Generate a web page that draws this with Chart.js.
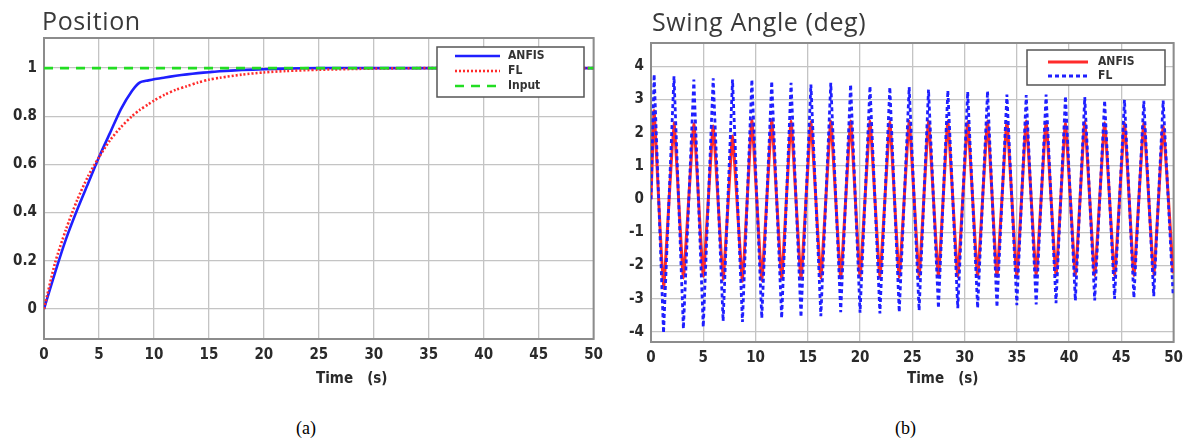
<!DOCTYPE html>
<html>
<head>
<meta charset="utf-8">
<script src="https://cdn.jsdelivr.net/npm/chart.js@4.4.1/dist/chart.umd.min.js"></script>
<style>
    body { margin: 0; background: #fff; }
    #page { position: relative; width: 1190px; height: 442px; overflow: hidden; }
    canvas { position: absolute; top: 0; }
    #posCanvas { left: 0; }
    #swingCanvas { left: 600px; }
    .title { position: absolute; font-family: 'Open Sans', sans-serif; font-size: 25px; letter-spacing: 0.6px; color: #3a3a3a; line-height: 1; white-space: nowrap; }
    .axis-title { position: absolute; font-family: 'DejaVu Sans Condensed', 'DejaVu Sans', sans-serif; font-weight: bold; font-size: 15px; color: #2a2a2a; white-space: pre; line-height: 1; }
    .caption { position: absolute; font-family: 'Liberation Serif', 'Times New Roman', serif; font-size: 18px; color: #000; line-height: 1; }
</style>
</head>
<body>
<div id="page">
    <canvas id="posCanvas" width="610" height="400"></canvas>
    <canvas id="swingCanvas" width="590" height="400"></canvas>
    <div class="title" style="left:42px; top:8px;">Position</div>
    <div class="title" style="left:652px; top:9px;">Swing Angle (deg)</div>
    <div class="axis-title" style="left:316px; top:371px;">Time   (s)</div>
    <div class="axis-title" style="left:907px; top:371px;">Time   (s)</div>
    <div class="caption" style="left:296px; top:419px;">(a)</div>
    <div class="caption" style="left:895px; top:419px;">(b)</div>
</div>
<script>
// Position response (a)
const posTime = [0, 1, 2, 3, 4, 5, 6, 7, 8, 8.7, 9.5, 10, 11, 12, 13, 14, 15, 16, 18, 20, 22, 25, 30, 35, 40, 45, 50];
const posAnfis = [0, 0.15, 0.29, 0.41, 0.52, 0.63, 0.73, 0.83, 0.905, 0.94, 0.949, 0.954, 0.961, 0.968, 0.974, 0.979, 0.983, 0.987, 0.992, 0.995, 0.998, 1, 1, 1, 1, 1, 1];
const posFl = [0, 0.19, 0.33, 0.45, 0.55, 0.63, 0.70, 0.755, 0.80, 0.826, 0.85, 0.865, 0.89, 0.91, 0.925, 0.94, 0.952, 0.96, 0.973, 0.982, 0.988, 0.993, 0.998, 1, 1, 1, 1];
const inputTime = [0, 50];
const inputValue = [1, 1];
const posTicks = [0, 0.2, 0.4, 0.6, 0.8, 1];

// Swing angle (b): peaks and troughs of each swing
const swingStart = [0, 0];
const peakTime = [0.3, 2.2, 4.1, 5.95, 7.8, 9.65, 11.55, 13.4, 15.3, 17.2, 19.1, 20.95, 22.85, 24.7, 26.55, 28.4, 30.3, 32.2, 34.05, 35.9, 37.8, 39.65, 41.5, 43.4, 45.3, 47.15, 49.0];
const troughTime = [1.2, 3.1, 5.0, 6.9, 8.75, 10.6, 12.5, 14.35, 16.25, 18.15, 20.0, 21.9, 23.75, 25.65, 27.5, 29.35, 31.25, 33.1, 35.0, 36.85, 38.75, 40.6, 42.45, 44.35, 46.2, 48.1, 49.95];
const anfisPeak = [2.66, 2.3, 2.27, 2.2, 1.9, 2.38, 2.38, 2.35, 2.33, 2.35, 2.35, 2.35, 2.33, 2.35, 2.35, 2.35, 2.33, 2.35, 2.33, 2.35, 2.33, 2.3, 2.33, 2.3, 2.3, 2.3, 2.2];
const anfisTrough = [-2.68, -2.37, -2.32, -2.41, -2.47, -2.45, -2.4, -2.4, -2.38, -2.38, -2.35, -2.35, -2.35, -2.33, -2.33, -2.33, -2.33, -2.33, -2.33, -2.3, -2.3, -2.3, -2.3, -2.3, -2.3, -2.28, -2.23];
const flPeak = [3.76, 3.7, 3.6, 3.64, 3.6, 3.6, 3.55, 3.5, 3.45, 3.5, 3.45, 3.4, 3.37, 3.37, 3.3, 3.27, 3.23, 3.25, 3.15, 3.13, 3.15, 3.1, 3.07, 2.97, 2.99, 2.96, 2.97];
const flTrough = [-4.03, -3.9, -3.85, -3.67, -3.7, -3.58, -3.58, -3.55, -3.52, -3.4, -3.42, -3.44, -3.4, -3.35, -3.28, -3.28, -3.28, -3.25, -3.19, -3.17, -3.13, -3.05, -3.05, -3.0, -2.97, -2.92, -2.87];
const swingTicks = [-4, -3, -2, -1, 0, 1, 2, 3, 4];
const timeTicks = [0, 5, 10, 15, 20, 25, 30, 35, 40, 45, 50];

const BLUE = '#1f1fff';
const RED = '#ff2b2b';
const GREEN = '#22dd22';
const tickFont = { family: "'DejaVu Sans Condensed', 'DejaVu Sans', sans-serif", weight: 'bold', size: 15 };

function toPoints(xs, ys) {
    return xs.map((x, i) => ({ x: x, y: ys[i] }));
}

function swingPoints(peaks, troughs) {
    const pts = [{ x: swingStart[0], y: swingStart[1] }];
    peakTime.forEach((t, i) => {
        pts.push({ x: t, y: peaks[i] });
        pts.push({ x: troughTime[i], y: troughs[i] });
    });
    return pts;
}

// frame round the plot + boxed legend inside it
const framePlugin = {
    id: 'frame',
    beforeDatasetsDraw(chart) {
        const a = chart.chartArea, ctx = chart.ctx;
        ctx.save();
        ctx.strokeStyle = '#8c8c8c';
        ctx.lineWidth = 2;
        ctx.strokeRect(a.left, a.top, a.right - a.left, a.bottom - a.top);
        ctx.restore();
    },
    afterDraw(chart, args, opts) {
        const ctx = chart.ctx;
        ctx.save();
        ctx.fillStyle = '#fff';
        ctx.fillRect(opts.x, opts.y, opts.w, opts.h);
        ctx.strokeStyle = '#555';
        ctx.lineWidth = 1.5;
        ctx.strokeRect(opts.x, opts.y, opts.w, opts.h);
        ctx.font = "bold 12px 'DejaVu Sans Condensed', 'DejaVu Sans', sans-serif";
        ctx.textBaseline = 'middle';
        opts.items.forEach((idx, row) => {
            const ds = chart.data.datasets[idx];
            const y = opts.y + opts.firstRow + row * opts.rowH;
            ctx.strokeStyle = ds.borderColor;
            ctx.lineWidth = ds.borderWidth;
            ctx.setLineDash(ds.borderDash || []);
            ctx.beginPath();
            ctx.moveTo(opts.sampleX, y);
            ctx.lineTo(opts.sampleX + opts.sampleW, y);
            ctx.stroke();
            ctx.setLineDash([]);
            ctx.fillStyle = '#333';
            ctx.fillText(ds.label, opts.textX, y);
        });
        ctx.restore();
    }
};

// use exactly the listed tick values
function useTicks(list) {
    return scale => {
        scale.ticks = list.map(v => ({ value: v }));
    };
}

function makeScales(yMin, yMax, yList, yWidth) {
    return {
        x: {
            type: 'linear', min: 0, max: 50,
            ticks: { font: tickFont, color: '#2a2a2a', padding: 7, maxRotation: 0 },
            afterBuildTicks: useTicks(timeTicks),
            afterFit: s => { s.height = 30; },
            grid: { color: '#c4c4c4', lineWidth: 1.3, drawTicks: false },
            border: { display: false }
        },
        y: {
            type: 'linear', min: yMin, max: yMax,
            ticks: { font: tickFont, color: '#2a2a2a', padding: 7,
                     callback: v => String(Math.round(v * 10) / 10) },
            afterBuildTicks: useTicks(yList),
            afterFit: s => { s.width = yWidth; },
            grid: { color: '#c4c4c4', lineWidth: 1.3, drawTicks: false },
            border: { display: false }
        }
    };
}

const commonOpts = {
    responsive: false,
    animation: false,
    events: [],
    elements: { point: { radius: 0 }, line: { tension: 0 } }
};

new Chart(document.getElementById('posCanvas'), {
    type: 'line',
    data: {
        datasets: [
            { label: 'ANFIS', data: toPoints(posTime, posAnfis), borderColor: BLUE, borderWidth: 2.6, tension: 0.25, order: 3 },
            { label: 'FL', data: toPoints(posTime, posFl), borderColor: RED, borderWidth: 2.6, borderDash: [2, 2], tension: 0.25, order: 2 },
            { label: 'Input', data: toPoints(inputTime, inputValue), borderColor: GREEN, borderWidth: 2.6, borderDash: [9, 7], order: 1 }
        ]
    },
    options: Object.assign({}, commonOpts, {
        layout: { padding: { left: 0, top: 38, right: 14, bottom: 31 } },
        scales: makeScales(-0.125, 1.125, posTicks, 44),
        plugins: {
            legend: { display: false },
            tooltip: { enabled: false },
            frame: { x: 437, y: 47, w: 147, h: 50, firstRow: 9, rowH: 15, sampleX: 455, sampleW: 45, textX: 508, items: [0, 1, 2] }
        }
    }),
    plugins: [framePlugin]
});

new Chart(document.getElementById('swingCanvas'), {
    type: 'line',
    data: {
        datasets: [
            { label: 'ANFIS', data: swingPoints(anfisPeak, anfisTrough), borderColor: RED, borderWidth: 3, tension: 0.1, order: 2 },
            { label: 'FL', data: swingPoints(flPeak, flTrough), borderColor: BLUE, borderWidth: 2.8, borderDash: [4, 3], order: 1 }
        ]
    },
    options: Object.assign({}, commonOpts, {
        layout: { padding: { left: 0, top: 43, right: 15, bottom: 28 } },
        scales: makeScales(-4.3, 4.7, swingTicks, 51),
        plugins: {
            legend: { display: false },
            tooltip: { enabled: false },
            frame: { x: 427, y: 50, w: 138, h: 35, firstRow: 12, rowH: 14, sampleX: 448, sampleW: 40, textX: 498, items: [0, 1] }
        }
    }),
    plugins: [framePlugin]
});
</script>
</body>
</html>
